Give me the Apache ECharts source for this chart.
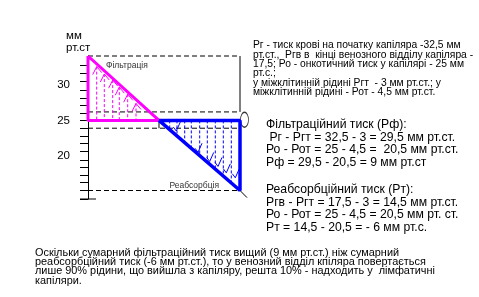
<!DOCTYPE html>
<html><head><meta charset="utf-8">
<script src="https://cdn.jsdelivr.net/npm/echarts@6/dist/echarts.min.js"></script>
<style>html,body{margin:0;padding:0;background:#fff}#c{width:479px;height:297px}</style>
</head><body><div id="c"></div>
<script>
// ---- data (x: position along capillary, arbitrary units; y: mm Hg) ----
const yTickValues = [32.8, 31.6, 30.5, 29.3, 28.1, 27.2, 26.0, 25.0, 23.9, 22.8, 21.8, 20.7, 19.4, 18.4, 17.3, 16.2, 15.1, 13.9];
const yLabelValues = [20, 25, 30];
const filtrationShape = [[0, 34.1], [0, 25.0], [71, 25.0], [0, 34.1]];
const reabsorptionShape = [[71, 25.0], [152, 25.0], [152, 15.1], [71, 25.0]];
const blackDashed = [[0, 34.1, 152, 34.1], [0, 26.2, 152, 26.2], [0, 23.9, 152, 23.9], [0, 15.1, 152, 15.1]];
const blackSolid = [[152, 34.1, 152, 26.2], [71, 25.0, 71, 23.9], [152, 15.1, 159, 14.1], [-8, 13.9, 8, 13.9]];
const filtrationX = [8.7, 16.3, 24.7, 31.3, 39.7, 48];
const filtrationTop = [32.6, 31.55, 30.7, 29.7, 28.7, 27.4];
const reabsorptionX = [81.7, 89, 96.7, 103.3, 111.7, 119.3, 127.3, 135.3, 143.3];
const reabsorptionBottom = [23.75, 22.85, 21.9, 21.1, 20.05, 19.1, 18.1, 17.15, 16.15];
const reabsorptionMarksX = [88.3, 110, 121.7, 130, 138.3, 147.3];
const reabsorptionMarksY = [23.5, 20.5, 19.2, 18.5, 17.6, 16.9];
const ovalPoint = [[156.5, 25.1]];
const baseY = 25.0;

const axisTitle = 'мм\nрт.ст';
const labelFiltration = 'Фільтрація';
const labelReabsorption = 'Реабсорбція';
const textLegend = 'Рг - тиск крові на початку капіляра -32,5 мм\nрт.ст.,  Ргв в  кінці венозного відділу капіляра -\n17,5; Ро - онкотичний тиск у капілярі - 25 мм\nрт.с.;\nу міжклітинній рідині Ргт  - 3 мм рт.ст.; у\nміжклітинній рідині - Рот - 4,5 мм рт.ст.';
const textFiltration = 'Фільтраційний тиск (Рф):\n Рг - Ргт = 32,5 - 3 = 29,5 мм рт.ст.\nРо - Рот = 25 - 4,5 =  20,5 мм рт.ст.\nРф = 29,5 - 20,5 = 9 мм рт.ст';
const textReabsorption = 'Реабсорбційний тиск (Рт):\nРгв - Ргт = 17,5 - 3 = 14,5 мм рт.ст.\nРо - Рот = 25 - 4,5 = 20,5 мм рт. ст.\nРт = 14,5 - 20,5 = - 6 мм рт.с.';
const textBottom = 'Оскільки сумарний фільтраційний тиск вищий (9 мм рт.ст.) ніж сумарний\nреабсорбційний тиск (-6 мм рт.ст.), то у венозний відділ кпіляра повертається\nлише 90% рідини, що вийшла з капіляру, решта 10% - надходить у  лімфатичні\nкапіляри.';

const FONT = '"Liberation Sans", Arial, sans-serif';

function segSeries(name, segs, color, width, dash, z) {
  return {
    type: 'custom', name, z, silent: true, clip: false,
    data: segs,
    renderItem: function (params, api) {
      const p1 = api.coord([api.value(0), api.value(1)]);
      const p2 = api.coord([api.value(2), api.value(3)]);
      return { type: 'line', shape: { x1: p1[0], y1: p1[1], x2: p2[0], y2: p2[1] },
        style: { stroke: color, lineWidth: width, lineDash: dash || null } };
    }
  };
}

const filtrationDash = filtrationX.map((x, i) => [x, filtrationTop[i], x, baseY]);
const reabsorptionDash = reabsorptionX.map((x, i) => [x, baseY, x, reabsorptionBottom[i]]);

const chart = echarts.init(document.getElementById('c'), null, { renderer: 'canvas' });
chart.setOption({
  animation: false,
  backgroundColor: '#fff',
  grid: { left: 88, right: 231, top: 56, bottom: 98 },
  xAxis: { type: 'value', min: 0, max: 160, show: false },
  yAxis: {
    type: 'value', min: 13.9, max: 34.1,
    splitLine: { show: false },
    axisLine: { show: true, lineStyle: { color: '#000', width: 1 } },
    axisTick: { show: true, length: 8, customValues: yTickValues, lineStyle: { color: '#000', width: 1 } },
    axisLabel: { customValues: yLabelValues, margin: 18, color: '#000', fontSize: 11.5, fontFamily: FONT }
  },
  series: [
    segSeries('dashed', blackDashed, '#000', 1, [5, 3], 1),
    segSeries('solid', blackSolid, '#000', 1, null, 1),
    segSeries('fdash', filtrationDash, '#ff00ff', 1, [3, 2], 2),
    segSeries('rdash', reabsorptionDash, '#0000ff', 1, [3, 2], 2),
    {
      type: 'custom', name: 'fmarks', z: 3, silent: true,
      data: filtrationX.map((x, i) => [x, filtrationTop[i]]),
      renderItem: function (params, api) {
        const p = api.coord([api.value(0), api.value(1)]);
        return { type: 'polyline', shape: { points: [[p[0] - 4, p[1] + 8], [p[0], p[1]], [p[0] + 5, p[1] + 6]] },
          style: { stroke: '#ff00ff', lineWidth: 1, fill: null } };
      }
    },
    {
      type: 'custom', name: 'rmarks', z: 3, silent: true,
      data: reabsorptionMarksX.map((x, i) => [x, reabsorptionMarksY[i]]),
      renderItem: function (params, api) {
        const p = api.coord([api.value(0), api.value(1)]);
        return { type: 'polyline', shape: { points: [[p[0] - 3, p[1] - 4], [p[0], p[1]], [p[0] + 4, p[1] - 9]] },
          style: { stroke: '#0000ff', lineWidth: 1, fill: null } };
      }
    },
    {
      type: 'scatter', name: 'oval', z: 1, silent: true,
      data: ovalPoint, symbol: 'circle', symbolSize: [8, 15],
      itemStyle: { color: 'rgba(0,0,0,0)', borderColor: '#000', borderWidth: 1 }
    },
    {
      type: 'line', name: 'Фільтрація', data: filtrationShape, z: 5, symbol: 'none', silent: true,
      lineStyle: { color: '#ff00ff', width: 3 }, itemStyle: { color: '#ff00ff' }
    },
    {
      type: 'line', name: 'Реабсорбція', data: reabsorptionShape, z: 5, symbol: 'none', silent: true,
      lineStyle: { color: '#0000ff', width: 3.5 }, itemStyle: { color: '#0000ff' }
    }
  ],
  graphic: [
    { type: 'text', left: 66, top: 30, style: { text: axisTitle, font: '11.5px ' + FONT, lineHeight: 12, fill: '#000' } },
    { type: 'text', left: 106, top: 61, style: { text: labelFiltration, font: '8.5px ' + FONT, fill: '#333' } },
    { type: 'text', left: 169.5, top: 181, style: { text: labelReabsorption, font: '8.5px ' + FONT, fill: '#333' } },
    { type: 'text', left: 253, top: 40.3, style: { text: textLegend, font: '10.3px ' + FONT, lineHeight: 9.4, fill: '#000' } },
    { type: 'text', left: 266, top: 118.8, style: { text: textFiltration, font: '12.2px ' + FONT, lineHeight: 12.5, fill: '#000' } },
    { type: 'text', left: 266, top: 183.8, style: { text: textReabsorption, font: '12.2px ' + FONT, lineHeight: 12.5, fill: '#000' } },
    { type: 'text', left: 35, top: 247, style: { text: textBottom, font: '10.9px ' + FONT, lineHeight: 9.4, fill: '#000' } }
  ]
});
</script></body></html>
